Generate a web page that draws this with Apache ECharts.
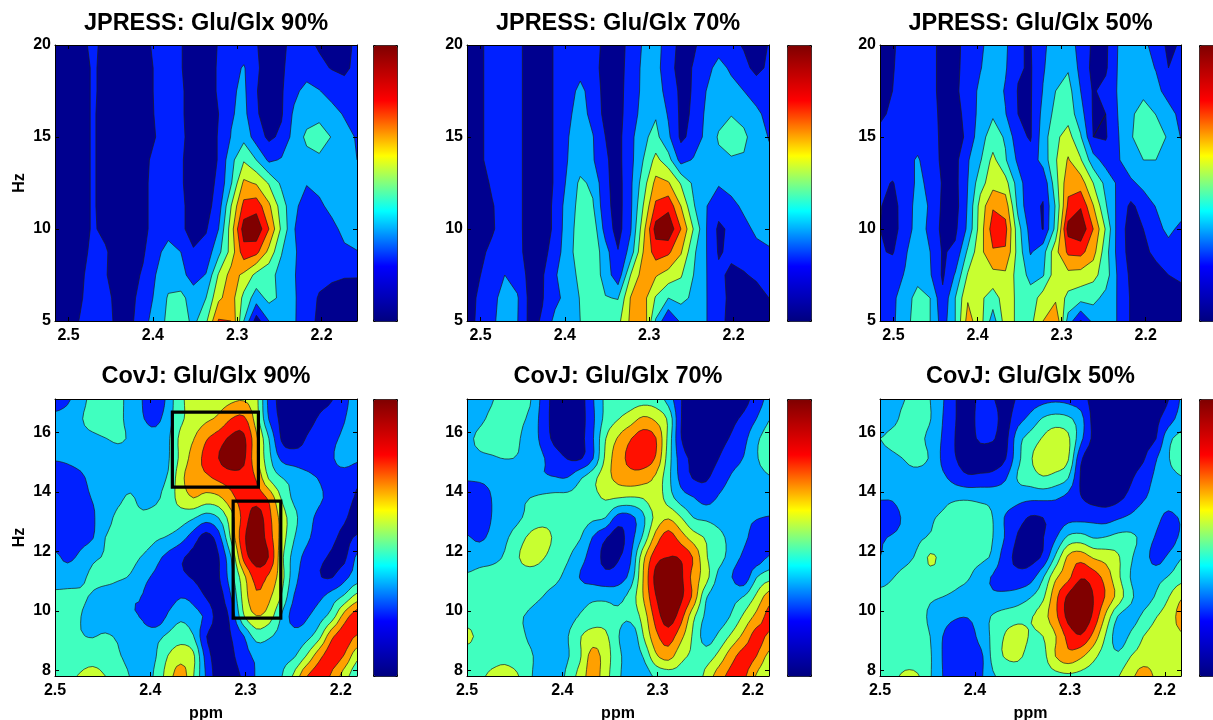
<!DOCTYPE html>
<html><head><meta charset="utf-8">
<style>html,body{margin:0;padding:0;background:#fff}#c{width:1213px;height:720px}</style>
<script src="https://cdn.jsdelivr.net/npm/echarts@6/dist/echarts.min.js"></script>
</head><body><div id="c"></div>
<script>
// Grid values. First row = lowest Hz, columns run left to right.
const jpress90=[
[.3,.6,1.05,1.5,1.3,.8,.8,1.6,2.5,3.2,3.6,2.7,3.8,6.1,6,3,.5,2,2.5,2.1,1.4,.8,.5,.4,.3],
[.3,.6,.9,1.4,1.2,.8,.8,1.3,2.2,3.1,3.3,2.5,3,4.8,5.5,3.7,2.5,3.3,2.8,2.1,1.5,.9,.6,.4,.3],
[.3,.6,.85,1.3,1.05,.7,.7,1.1,2,2.6,2.3,1.6,2.05,4.1,5.4,4.8,3.7,3.3,2.7,2.05,1.6,1.3,1.2,1.1,1.1],
[.3,.5,.7,1.2,1.1,.6,.6,.9,1.6,2.5,2,1.1,1.4,2.7,4.4,6.6,6.3,4.7,3.05,2.1,1.6,1.5,1.6,1.8,1.95],
[.2,.4,.6,1.1,.8,.5,.5,.8,1.3,1.5,1.2,.6,.9,2,4.5,7.5,7.8,6,3.8,2.05,1.3,1.3,1.7,2.3,2.6],
[.2,.4,.6,1.1,.7,.5,.5,.8,1.3,1.5,1.2,.6,.6,1.5,4,6.3,6.6,5.2,3.5,2.2,1.6,1.8,2.3,2.6,2.8],
[.2,.4,.6,1.1,.7,.5,.5,.8,1.3,1.4,1.1,.6,.6,1.2,2.9,5.2,4.9,3.9,2.8,2.5,2.05,2.3,2.6,2.8,2.9],
[.2,.4,.6,1.1,.7,.5,.5,.8,1.2,1.3,1.1,.6,.6,1.05,2.7,3.9,3,1.8,2.1,2.5,2.7,2.8,2.7,2.4,2],
[.2,.4,.6,1.1,.7,.5,.5,.7,1,1.3,1.1,.8,.6,1.05,2.05,2.7,1.5,.8,1.2,2.4,3.2,3.5,2.95,2.4,1.9],
[.2,.4,.6,1.1,.7,.5,.5,.7,1.05,1.3,1.1,.7,.6,1,1.9,2.3,1.1,.6,.9,2.2,2.6,2.7,2.4,1.9,1.4],
[.2,.4,.6,1.1,.8,.5,.5,.6,1.1,1.3,1.1,.7,.6,1.1,1.85,2.2,1.05,.5,.9,1.7,2.4,2.05,1.6,1.3,1.2],
[.2,.4,.6,1.1,.8,.5,.5,.6,1.1,1.3,1.05,.6,.6,1.1,1.6,2.1,1.1,.7,.9,1.3,1.4,1.2,.95,.85,1.2],
[.3,.4,.6,1.3,.6,.4,.4,.7,1.2,1.4,1.05,.6,.6,1.05,1.4,1.4,1.05,.6,.8,1.3,1.2,.9,.6,.7,1.2]];
const jpress70=[
[.5,1.3,1.8,2.5,2.05,.7,1.1,2.3,2.7,3,3.5,3.1,3.7,5.2,5.8,2.9,1,2.2,2.5,2.05,1.3,.7,.5,.4,.3],
[.5,1.2,1.7,2.4,2.1,.7,.95,1.7,2.4,3.05,3.6,3.05,2.95,5.05,5.4,3.9,3,3.3,2.8,2.05,1.3,.8,.6,.5,1],
[.6,.95,1.6,2,1.6,.7,.9,1.9,2.6,3.2,3.6,2.6,1.3,4,5.5,5.1,4.6,4.1,3,2.05,1.2,.8,.9,1.2,1.4],
[.4,.8,1.2,1.4,1.3,.6,.7,1.4,2.7,3.4,3.7,2.4,1.05,2.4,5,6.5,6.2,5.1,3.2,2.05,.9,1.2,1.5,1.7,1.8],
[.3,.6,.9,1.4,1.2,.7,.5,1.2,2.6,3.4,3.6,1.6,.6,1.9,4.6,7.4,7.8,6,3.95,2.05,.8,1.2,1.7,2.2,2.6],
[.3,.6,.95,1.3,1.2,.7,.5,1.2,2.5,3.3,3.1,1.3,.6,1.8,4,6.2,6.7,5,3.1,2.05,1.4,1.7,2.2,2.5,2.7],
[.3,.7,1.1,1.3,1.2,.7,.5,1.1,2.2,3.2,2.8,1.2,.6,1.8,3.5,5.3,5.1,3.9,2.8,2.5,2.1,2.4,2.7,2.8,2.9],
[.3,.9,1.2,1.3,1.2,.7,.5,1.1,2,2.5,2.1,1.1,.7,1.7,3,4.3,3.4,1.6,2.1,2.6,2.8,2.9,2.9,2.7,2.2],
[.3,.9,1.2,1.3,1.2,.7,.5,1.1,1.95,2.5,2.05,1,.7,1.7,2.8,3.3,2.2,.8,1.3,2.3,3.1,3.5,3.2,2.5,1.95],
[.3,.9,1.2,1.3,1.2,.7,.5,1.1,1.8,2.4,1.7,.7,.6,1.6,2.3,2.9,1.9,.8,1.1,2.2,2.7,2.95,2.7,2.2,1.7],
[.3,.9,1.2,1.3,1.2,.7,.5,1.1,1.5,2.3,1.5,.7,.6,1.5,2.2,2.5,1.6,.8,1.05,2,2.5,2.4,2,1.6,1.4],
[.3,.9,1.2,1.3,1.2,.7,.5,1.1,1.3,1.6,1.3,.7,.6,1.4,2.2,2.4,1.3,.7,1.05,1.6,2.4,1.8,1.3,.7,1.2],
[.3,.9,1.2,1.3,1.2,.7,.5,1.1,1.3,1.5,1.3,.8,.6,1.3,2.1,2.4,1.5,.7,.9,1.3,1.5,1.3,.9,.6,1.05]];
const jpress50=[
[1.2,1.8,2.7,3.4,3,1.5,3,5.4,4.4,2.5,4.5,3.8,3.7,5,5.9,2.6,.9,2.3,2.7,1.9,.9,.6,.5,.4,.3],
[1.3,1.8,2.5,3.4,3,1.2,3,4.9,4.2,3.5,4.5,3.8,3.4,4.5,4.8,3.7,3.4,3.3,2.7,1.9,.9,.7,.6,.5,.4],
[1.3,1.7,2.05,2.6,2.1,.85,2.1,4.1,4.7,4.7,4.8,3.6,2.7,2.9,4.6,4.7,4.6,4.3,3.5,1.8,.8,.6,.7,1,1.3],
[1.1,.9,1.9,2.5,2,.9,1.2,3.2,4.7,5.9,5.9,3.6,1.9,2.6,4.7,6.2,6.3,5.4,3.4,1.6,.6,.8,1.2,1.5,1.7],
[1,.6,1.5,2.4,1.8,.7,.8,2.2,4.5,6.5,6.3,3.4,1.6,.95,3.3,7.4,7.8,6,3.9,1.5,.6,1,1.6,2.3,1.7],
[1.05,.7,1.4,2.4,1.9,.8,.6,2.1,4.4,5.9,5.6,2.7,1.2,.95,3.1,6.2,6.9,5.05,3.1,1.7,.8,1.4,2.05,2.6,2.6],
[1.2,.95,1.4,2.2,1.8,.9,.7,2,3.6,4.6,4.4,2.5,1.2,1.2,3.6,5.7,5.5,4,2.7,1.8,1.8,2.3,2.7,2.9,2.8],
[1.4,1.5,1.7,2.1,1.5,.8,.7,1.9,2.9,4.3,3.1,1.8,1.4,2.4,3.9,5.1,4.1,2.4,1.6,1.9,2.7,3,3,2.7,2.6],
[1.3,1.4,1.5,1.6,1.4,.8,.6,1.2,2.7,3.4,2.9,1.3,.9,2.5,3.8,4.4,3.1,1,.9,1.95,2.95,3.3,3.6,2.85,1.95],
[.8,1.2,1.4,1.5,1.3,.8,.6,1.4,2.3,2.9,2.05,1,.9,2.3,3.3,3.6,2.4,.9,1,2.05,2.8,3.5,2.97,2.4,1.7],
[.6,1,1.3,1.4,1.3,.7,.8,1.5,2.2,2.6,1.9,.95,.9,2.05,3,3.4,2,.9,1.3,2.1,2.6,2.7,2.3,1.6,1.3],
[.5,.95,1.3,1.4,1.3,.7,.7,1.5,1.95,2.5,2.1,1.1,.9,1.9,2.6,2.9,1.7,.7,.85,2.1,2.5,2.4,1.95,1,1.2],
[.5,.9,1.3,1.4,1.3,.7,.7,1.4,1.8,2.5,2.2,1.05,.95,1.8,2.5,2.4,1.7,.8,.8,2.05,2.4,2.3,1.5,.8,1.1]];
const covj90=[
[3.2,3.7,4.1,4.4,4,3.5,2.95,2.5,3.2,4.5,5.5,4.05,1.9,.5,.6,1.2,2.1,2.5,2.95,4.2,5.95,6.5,5.85,4.5,3.3],
[3.2,3.3,3.4,3.5,3.3,3.1,2.7,2.5,2.95,4.05,4.6,4.2,1.6,.5,.8,1.6,2.2,2.5,2.7,2.9,4.1,5.7,6.5,5.9,4.3],
[3.3,3.2,3.05,2.97,3.1,2.9,2.6,2.4,2.7,3.2,3.6,3.05,1.05,.6,1,1.95,3.4,3.1,2.7,2.4,2.7,3.7,5.8,6.5,5.9],
[3.4,3.2,3.02,2.7,2.5,2.3,2.1,1.9,1.2,2.2,2.8,2.4,1.8,.6,1.3,3.9,4.95,4.5,2.9,1.6,1.9,2.6,3.5,5.5,6.6],
[3.3,3.2,3.1,2.9,2.4,2.2,2.1,1.95,1.2,1.5,1.95,1.7,.95,.6,2,4.4,5.8,5.2,3.9,1.95,1.5,1.8,2.5,3.2,4.4],
[2.4,2.6,2.8,3.2,3.4,3.2,2.9,2.3,1.8,1.5,1.2,.9,.5,.9,2.6,4.7,6.4,5.8,4.4,2.4,1.5,1.05,.95,1.7,2.5],
[2.2,1.8,2.2,2.8,3.1,3.5,3.3,2.9,2.3,1.7,1.15,.7,.4,.95,3,6.3,7.5,6.95,4.3,2.6,1.7,1.2,.9,.8,2.2],
[1.5,1.6,1.7,1.95,3,3.2,3.4,3.5,3.15,2.9,2.4,1.5,.6,1.6,4.2,6.8,7.6,6.5,4.6,3.05,2.2,1.6,1.2,.8,1.1],
[1.3,1.5,1.7,1.9,2.6,3.2,3.3,3.2,3.4,3.6,3.5,3.1,2.5,3,4.6,6.4,7.5,6.3,4.6,3.3,2.35,1.8,1.5,1.1,.7],
[1.4,1.5,1.7,2.05,2.3,2.8,3.1,2.7,2.8,3.5,4.4,5,4.6,4.8,5.7,6.5,6.6,5.8,3.9,2.8,2.5,2.1,1.8,1.4,.9],
[1.3,1.5,1.8,2.3,2.6,2.7,2.7,2.7,2.8,3.1,4.7,5.6,5.8,6.2,6.5,6.6,5.9,3.9,3.05,2.7,2.3,1.95,1.7,1.5,1.2],
[2.1,2.2,2.4,2.5,2.6,2.7,2.7,2.6,2.6,2.9,4.3,5.4,6.3,7,7.6,7.2,5.2,3.3,1.8,1.5,1.4,1.5,1.9,2.4,2.2],
[2.4,2.6,2.7,2.8,2.98,3.1,2.9,2.5,2.4,2.85,4.3,4.95,5.9,6.5,7.2,7.2,5.2,3,.9,.6,1.05,1.4,1.8,2.2,2.7],
[2.4,2.6,2.9,3.4,3.5,3.2,2.7,2.05,1.7,2.6,3.8,4.4,4.8,5.2,6,6.2,4.5,1.95,.8,.6,.7,1.1,1.5,1.95,2.6],
[1.2,1.8,2.6,3.3,3.6,3.3,2.6,1.95,1.05,2.4,3.8,4.3,4.4,4.6,4.8,4.9,4.3,1.7,.7,.4,.4,.7,.95,1.7,2.5]];
const covj70=[
[3.4,3.8,4.2,4.4,4.1,3.1,2.7,2.3,3.3,4.4,5.5,4.4,3.2,2.5,2.4,3.2,3.5,3.6,3.3,4.3,5.5,6.3,6.2,4.9,4],
[3.4,3.5,3.6,3.7,3.4,3.1,2.7,2.3,2.9,3.9,5.4,4.5,3.3,2.5,3.05,4.8,5.4,4.3,3.8,3.5,4.3,5.6,6.4,6,4.7],
[4.3,3.7,3.5,3.4,3.2,2.9,2.6,2.3,2.95,3.95,4.4,4.2,3.1,2.2,3.95,5.7,6.5,5.3,3.8,2.6,3.2,4.2,5.3,6.4,5.8],
[3.5,3.4,3.3,3.3,3.1,2.9,2.7,2.5,2.6,3.1,3.5,3.5,3.2,3.3,4.4,6.4,7.5,6.4,4.2,2.8,2.5,3.1,4.2,5.3,6.3],
[3.4,3.4,3.5,3.5,3.4,3.2,3,2.7,2.5,2.6,2.8,2.8,2.7,3.4,5,6.95,7.8,7.2,5.7,3.1,2.5,2.7,3.05,4.2,5.5],
[3.1,3.2,3.3,3.4,3.5,3.5,3.4,3.2,2.7,1.95,1.6,1.3,1.5,2.4,5,7.3,7.8,7.2,5.6,4.4,2.7,2.05,1.4,2.95,3.6],
[2.6,2.7,2.8,3.1,3.9,4.4,4.1,3.5,3.1,2.4,1.5,.8,.9,1.9,4.7,6.6,7,6.9,5.9,4.1,3.4,2.6,1.8,1.4,2.1],
[2.1,1.8,2.3,2.8,3.5,4.2,4.5,3.8,3.4,3.05,1.95,1.1,.6,1.6,3.2,5.4,6.5,5.5,4.5,3.9,3.3,2.7,2.2,1.6,1.3],
[1.5,1.3,2.05,2.4,2.8,3.3,3.5,3.6,3.5,3.4,3.2,3,1.6,1.7,2.8,4.3,4.9,4.05,3,2.8,2.6,2.4,2.2,2.05,1.95],
[1.4,1.3,2.05,2.4,2.8,3,3.2,3.3,3.3,3.4,3.7,4.1,4,3.9,4.05,4.6,3.5,2.5,2.05,1.6,2.1,2.4,2.5,2.6,2.5],
[2.1,2.2,2.3,2.4,2.4,2.3,2.1,2.05,2.05,2.9,3.7,4.6,5.3,5.6,5.4,4.8,3.3,1.7,.95,.9,1.5,2.1,2.4,2.6,2.9],
[2.6,2.8,2.9,3.02,2.95,2.6,2.1,1.5,.95,.9,1.95,4.2,5.6,6.2,6.5,5.9,3.5,1.5,.8,.6,1,1.6,2.05,2.9,3.5],
[2.8,3.2,3.4,3.5,3.1,2.6,1.7,.7,.4,.7,1.9,3.95,5.1,5.95,6.5,6.05,3.7,1.05,.5,.5,.7,1.1,1.7,2.8,3.4],
[2.4,2.8,3.2,3.4,3.2,2.8,1.6,.6,.4,.6,1.8,3.3,3.95,4.5,5.2,4.8,3.8,1.05,.5,.4,.5,.8,1.2,2,2.95],
[2.2,2.6,2.95,3.3,3.4,3.1,1.7,.6,.4,.6,1.9,3.2,3.4,3.5,3.6,3.5,2.6,1.05,.5,.4,.4,.5,.7,1.4,2.3]];
const covj50=[
[3.3,3.7,4.2,4.1,3.1,2,1.5,1.3,1.8,2.9,3.2,3.4,3.5,3.6,3.7,3.8,3.7,3.5,3.3,3.95,4.7,5.5,4.8,4.2,4.2],
[3.4,3.4,3.4,3.3,3.1,1.95,1.4,1.2,1.7,3.3,4.1,4.2,3.6,3.7,5.02,5.7,5.2,4.3,3.5,3.2,4,4.4,4.6,4.7,4.8],
[3.5,3.4,3.3,3.2,3,2,1.5,1.3,2.4,3.2,4.1,4.5,3.9,4,4.95,6.3,6.9,5.7,3.9,2.5,3.2,4,4.4,4.6,4.9],
[3.6,3.5,3.4,3.2,2.9,2.4,2.1,2.05,2.5,3.1,3.4,3.6,3.9,4.6,5.75,7.3,7.8,6.8,4.8,2.9,2.6,3.2,3.95,4.5,5.3],
[3.4,3.4,3.3,3.2,3.1,3,2.8,2.5,2.3,2.2,2.3,2.5,2.95,3.8,5.7,7.2,7.8,7,5.9,4.6,3.2,2.6,3.1,3.95,4.9],
[2.5,2.95,3.3,3.5,3.6,3.5,3.3,3.1,2.5,1.9,1.4,1.3,1.6,2.9,4.8,5.7,6.9,6.5,5.6,4.2,2.95,2.6,2.7,3.05,3.6],
[2,2.4,2.7,3.2,4.15,3.7,3.5,3.3,3.2,2.8,1.4,.8,.7,1.2,3.2,5.2,5.6,4.9,4.6,4.1,3.1,2.5,1.6,2.2,2.95],
[1.9,2.1,2.3,2.8,3.1,3.4,3.6,3.4,3.1,3,1.9,.9,.7,.97,1.9,3.2,3.4,2.95,3.05,3.3,3.2,2.7,1.9,1.4,2.2],
[1.3,1.6,2.2,2.5,2.9,3.1,3.3,3.4,3.3,2.99,1.9,1.4,.9,1,1.4,1.7,1.7,1.7,1.6,1.9,2.2,2.5,2.3,1.7,2.1],
[2.1,2.1,2.5,2.6,2.7,2.8,2.9,2.9,2.8,2.7,2.5,2.3,2.2,2.2,2.1,1.7,1.05,.7,.6,.8,1.3,1.9,2.3,2.6,2.8],
[2.5,2.6,2.7,2.6,2.4,2.2,1.6,1.2,1.3,1.4,1.9,3.1,3.5,3.9,3.6,3.02,.9,.5,.4,.6,.9,1.5,2.2,2.7,2.95],
[2.5,2.8,3.05,3.3,2.9,1.8,1.05,.5,.4,.5,.95,2.7,3.9,4.5,4.7,4.1,1.2,.4,.3,.4,.6,.9,1.9,2.95,3.4],
[3,3.3,3.4,3.3,2.7,1.9,.98,.5,1.2,1.1,.7,2.6,3.4,4.1,4.6,4.2,2.3,.8,.4,.3,.4,.7,.98,2.7,3.3],
[2.2,2.7,3.3,3.5,3.05,2,1.05,.5,1.4,1.3,.7,1.6,2.3,3.1,3.4,3.2,2.4,.7,.4,.3,.3,.5,.8,1.5,2.4],
[2.2,2.6,3,3.3,3,2.1,1.05,.6,1.2,1.05,.7,1.1,1.5,1.7,1.8,1.7,1.4,.7,.4,.3,.3,.4,.6,.98,2.1]];
const titles=['JPRESS: Glu/Glx 90%','JPRESS: Glu/Glx 70%','JPRESS: Glu/Glx 50%','CovJ: Glu/Glx 90%','CovJ: Glu/Glx 70%','CovJ: Glu/Glx 50%'];
const topXTicks=[2.5,2.4,2.3,2.2], topYTicks=[5,10,15,20];
const botXTicks=[2.5,2.4,2.3,2.2], botYTicks=[8,10,12,14,16];
const topPpmRange=[2.158,2.516], topHzRange=[5,20];
const botPpmRange=[2.183,2.5], botHzRange=[7.82,17.12];
// boxes on the CovJ 90% panel: ppm left, Hz top, ppm right, Hz bottom
const boxes=[[2.3768,16.68,2.2865,14.16],[2.313,13.69,2.263,9.76]];
const levels=[1,2,3,4,5,6,7];
const bandColors=['#00008f','#0020ff','#00afff','#40ffbf','#c8ff30','#ffa000','#ff1000','#800000'];
const jet=['#00007f','#0000ff','#00ffff','#ffff00','#ff0000','#7f0000'];

echarts.graphic.registerShape('polySet',echarts.graphic.extendShape({
  type:'polySet',shape:{polys:[],closed:true},
  buildPath(ctx,s){for(const p of s.polys){ctx.moveTo(p[0][0],p[0][1]);for(let i=1;i<p.length;i++)ctx.lineTo(p[i][0],p[i][1]);if(s.closed)ctx.closePath();}}
}));

function nodes(lo,hi,n){const a=[];for(let i=0;i<n;i++)a.push(lo+(hi-lo)*i/(n-1));return a;}
// Contour-drawing helper only: curves the traced outlines between the hand-read
// nodes (Catmull-Rom, passes through every node). The arrays above stay as read.
function cr(a,b,c,d,t){return .5*(2*b+(c-a)*t+(2*a-5*b+4*c-d)*t*t+(3*b-a-3*c+d)*t*t*t);}
function curveLine(v,f){const o=[],n=v.length;for(let i=0;i<n-1;i++){const a=v[Math.max(i-1,0)],b=v[i],c=v[i+1],d=v[Math.min(i+2,n-1)];for(let k=0;k<f;k++)o.push(cr(a,b,c,d,k/f));}o.push(v[n-1]);return o;}
function curveGrid(g,f){const rows=g.map(r=>curveLine(r,f));const out=[];const nc=rows[0].length;
  for(let c=0;c<nc;c++){const col=curveLine(rows.map(r=>r[c]),f);col.forEach((v,j)=>{(out[j]=out[j]||[])[c]=v;});}return out;}
function contourChildren(api,grid,xs,ys){
  const kids=[],R=xs.length-1,rows=ys.length-1;
  const c0=api.coord([xs[0],ys[0]]),c1=api.coord([xs[R],ys[rows]]);
  kids.push({type:'polySet',shape:{polys:[[[c0[0],c0[1]],[c1[0],c0[1]],[c1[0],c1[1]],[c0[0],c1[1]]]],closed:true},style:{fill:bandColors[0],stroke:null}});
  const lineSets=[];
  levels.forEach((lv,li)=>{
    const polys=[],segs=[];
    for(let j=0;j<rows;j++)for(let i=0;i<R;i++){
      const q=[[xs[i],ys[j],grid[j][i]],[xs[i+1],ys[j],grid[j][i+1]],[xs[i+1],ys[j+1],grid[j+1][i+1]],[xs[i],ys[j+1],grid[j+1][i]]];
      const out=[],cross=[];
      for(let k=0;k<4;k++){
        const a=q[k],b=q[(k+1)%4],ain=a[2]>=lv,bin=b[2]>=lv;
        if(ain)out.push(api.coord([a[0],a[1]]));
        if(ain!==bin){
          const t=(lv-a[2])/(b[2]-a[2]);
          const pt=api.coord([a[0]+(b[0]-a[0])*t,a[1]+(b[1]-a[1])*t]);
          out.push(pt);cross.push({pt,exit:ain});
        }
      }
      if(out.length>2)polys.push(out);
      if(cross.length){
        if(!cross[0].exit)cross.push(cross.shift());
        for(let k=0;k+1<cross.length;k+=2)segs.push([cross[k].pt,cross[k+1].pt]);
      }
    }
    kids.push({type:'polySet',shape:{polys,closed:true},style:{fill:bandColors[li+1],stroke:null}});
    lineSets.push(segs);
  });
  lineSets.forEach(segs=>kids.push({type:'polySet',shape:{polys:segs,closed:false},style:{fill:'none',stroke:'#1c1c1c',lineWidth:0.7}}));
  return kids;
}

const panelData=[jpress90,jpress70,jpress50,covj90,covj70,covj50];
const lefts=[55,467,880], widths=[302,302,301], barLefts=[373,787,1199];
const option={animation:false,backgroundColor:'#fff',title:[],grid:[],xAxis:[],yAxis:[],series:[],visualMap:[]};
const FONT='Liberation Sans';
panelData.forEach((raw,p)=>{
  const col=p%3,isTop=p<3;
  const top=isTop?45:399,height=isTop?276:277;
  const xr=isTop?topPpmRange:botPpmRange,yr=isTop?topHzRange:botHzRange;
  const xt=isTop?topXTicks:botXTicks,yt=isTop?topYTicks:botYTicks;
  const grid=isTop?raw:curveGrid(raw,3);
  const xs=nodes(xr[1],xr[0],grid[0].length),ys=nodes(yr[0],yr[1],grid.length);
  option.grid.push({left:lefts[col],top,width:widths[col],height,containLabel:false,outerBoundsMode:'none'});
  option.title.push({text:titles[p],left:lefts[col]+widths[col]/2,top:isTop?12:365,textAlign:'center',itemGap:0,padding:0,
    textStyle:{fontFamily:FONT,fontWeight:'bold',fontSize:23.5,color:'#000'}});
  const lineS={show:true,onZero:false,lineStyle:{color:'#000',width:1}};
  const tick=(v)=>({show:true,inside:true,length:4,customValues:v,lineStyle:{color:'#000',width:1}});
  const gi=p;
  option.xAxis.push({type:'value',gridIndex:gi,position:'bottom',inverse:true,min:xr[0],max:xr[1],z:5,splitLine:{show:false},axisLine:lineS,axisTick:tick(xt),
    axisLabel:{show:true,customValues:xt,formatter:v=>v.toFixed(1),margin:7,fontFamily:FONT,fontWeight:'bold',fontSize:16,color:'#000',hideOverlap:false},
    name:isTop?'':'ppm',nameLocation:'middle',nameGap:30,nameTextStyle:{fontFamily:FONT,fontWeight:'bold',fontSize:16,color:'#000'}});
  option.xAxis.push({type:'value',gridIndex:gi,position:'top',inverse:true,min:xr[0],max:xr[1],z:5,splitLine:{show:false},axisLine:lineS,axisTick:tick(xt),axisLabel:{show:false}});
  option.yAxis.push({type:'value',gridIndex:gi,position:'left',min:yr[0],max:yr[1],z:5,splitLine:{show:false},axisLine:lineS,axisTick:tick(yt),
    axisLabel:{show:true,customValues:yt,margin:4,padding:[6,0,0,0],fontFamily:FONT,fontWeight:'bold',fontSize:16,color:'#000',hideOverlap:false},
    name:col===0?'Hz':'',nameLocation:'middle',nameGap:27,nameTextStyle:{fontFamily:FONT,fontWeight:'bold',fontSize:16,color:'#000'}});
  option.yAxis.push({type:'value',gridIndex:gi,position:'right',min:yr[0],max:yr[1],z:5,splitLine:{show:false},axisLine:lineS,axisTick:tick(yt),axisLabel:{show:false}});
  const sIndex=option.series.length;
  option.series.push({type:'custom',xAxisIndex:2*p,yAxisIndex:2*p,coordinateSystem:'cartesian2d',silent:true,clip:true,z:2,data:[[xs[0],ys[0]]],
    renderItem:(params,api)=>({type:'group',children:contourChildren(api,grid,xs,ys)})});
  if(p===3){
    option.series.push({type:'custom',xAxisIndex:6,yAxisIndex:6,coordinateSystem:'cartesian2d',silent:true,clip:true,z:3,data:boxes,
      renderItem:(params,api)=>{
        const a=api.coord([api.value(0),api.value(1)]),b=api.coord([api.value(2),api.value(3)]);
        return {type:'rect',shape:{x:a[0],y:a[1],width:b[0]-a[0],height:b[1]-a[1]},style:{fill:'none',stroke:'#000',lineWidth:3.2}};
      }});
  }
  option.visualMap.push({type:'continuous',seriesIndex:sIndex,min:0,max:1,show:true,calculable:false,left:barLefts[col],top,itemWidth:24,itemHeight:height,padding:0,
    text:null,showLabel:false,borderColor:'#000',borderWidth:1,inRange:{color:jet},textStyle:{fontSize:0}});
});
echarts.init(document.getElementById('c'),null,{renderer:'canvas'}).setOption(option);
</script></body></html>
